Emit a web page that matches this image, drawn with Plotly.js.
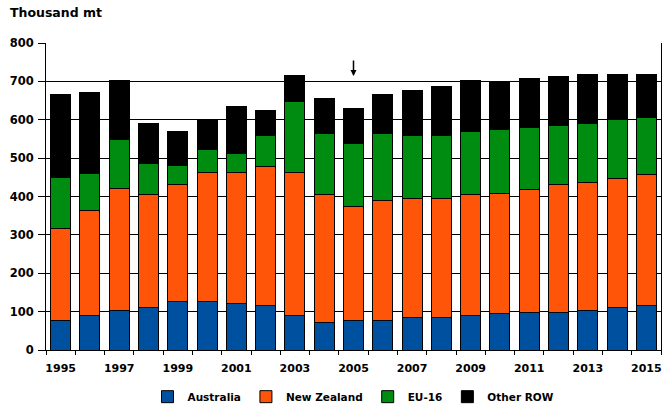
<!DOCTYPE html>
<html>
<head>
<meta charset="utf-8">
<script src="https://cdn.plot.ly/plotly-3.0.1.min.js"></script>
<style>html,body{margin:0;padding:0;background:#fff;}#chart{width:662px;height:412px;}</style>
</head>
<body>
<div id="chart"></div>
<script>
const years = [1995,1996,1997,1998,1999,2000,2001,2002,2003,2004,2005,2006,2007,2008,2009,2010,2011,2012,2013,2014,2015];
const australia  = [78,90,104,110,126,126,120,116,90,72,78,78,84,84,89,94,99,99,104,110,116];
const newZealand = [238,273,316,295,305,336,342,361,372,334,296,311,310,310,316,315,320,332,332,337,341];
const eu16       = [134,97,129,81,50,61,50,81,186,158,164,175,164,164,164,165,160,153,154,153,148];
const otherRow   = [217,212,153,104,88,75,123,67,67,92,92,103,119,129,134,126,129,130,129,119,114];
const tickYears  = [1995,1997,1999,2001,2003,2005,2007,2009,2011,2013,2015];
const tickLabels = ['1995','1997','1999','2001','2003','2005','2007','2009','2011','2013','2015'];
const seriesNames = ['Australia','New Zealand','EU-16','Other ROW'];
const seriesColors = ['#0050A0','#FF5508','#008C10','#000000'];
const arrowYear = 2005;
const arrowValue = 714;

const fam = '"DejaVu Sans", Verdana, sans-serif';
const font = {family: fam, size: 11, color: '#000', weight: 'bold'};
const series = [australia, newZealand, eu16, otherRow];
const traces = series.map((vals, i) => ({
  type: 'bar',
  x: years,
  y: vals,
  name: seriesNames[i],
  marker: {color: seriesColors[i], line: {color: '#000', width: 1}},
  hoverinfo: 'skip'
}));

const layout = {
  width: 662, height: 412,
  margin: {l: 46, r: 1, t: 43, b: 60},
  barmode: 'stack',
  bargap: 0.32,
  paper_bgcolor: '#fff',
  plot_bgcolor: '#fff',
  font: font,
  showlegend: true,
  legend: {
    orientation: 'h', x: 0.5, xanchor: 'center', y: -0.152, yanchor: 'middle',
    font: {family: fam, size: 10.5, color: '#000', weight: 'bold'},
    itemwidth: 30, tracegroupgap: 0, traceorder: 'normal'
  },
  xaxis: {
    type: 'linear',
    range: [1994.5, 2015.5],
    tickvals: tickYears,
    ticktext: tickLabels,
    ticks: '',
    ticklabelstandoff: 8,
    showgrid: false,
    zeroline: false,
    showline: true, linecolor: '#000', linewidth: 1,
    tickfont: font,
    minor: {tick0: 1994.5, dtick: 1, ticks: 'outside', ticklen: 4, tickcolor: '#000', tickwidth: 1, showgrid: false},
    fixedrange: true
  },
  yaxis: {
    range: [0, 800],
    dtick: 100,
    ticks: 'outside', ticklen: 7, tickcolor: '#000', tickwidth: 1,
    showgrid: true, gridcolor: '#000', gridwidth: 1,
    zeroline: false,
    showline: true, linecolor: '#000', linewidth: 1,
    mirror: true,
    tickfont: {family: fam, size: 11.5, color: '#000', weight: 'bold'},
    ticklabelstandoff: 2,
    fixedrange: true
  },
  annotations: [
    {
      xref: 'paper', yref: 'paper', x: -0.062, y: 1.1, xanchor: 'left', yanchor: 'middle',
      text: 'Thousand mt', showarrow: false, font: {family: fam, size: 12.5, color: '#000', weight: 'bold'}
    },
    {
      x: arrowYear, y: arrowValue, xref: 'x', yref: 'y', text: '',
      showarrow: true, arrowhead: 2, arrowsize: 0.8, arrowwidth: 1.5, arrowcolor: '#000',
      ax: 0, ay: -17
    }
  ]
};

Plotly.newPlot('chart', traces, layout, {displayModeBar: false, staticPlot: true});
</script>
</body>
</html>
